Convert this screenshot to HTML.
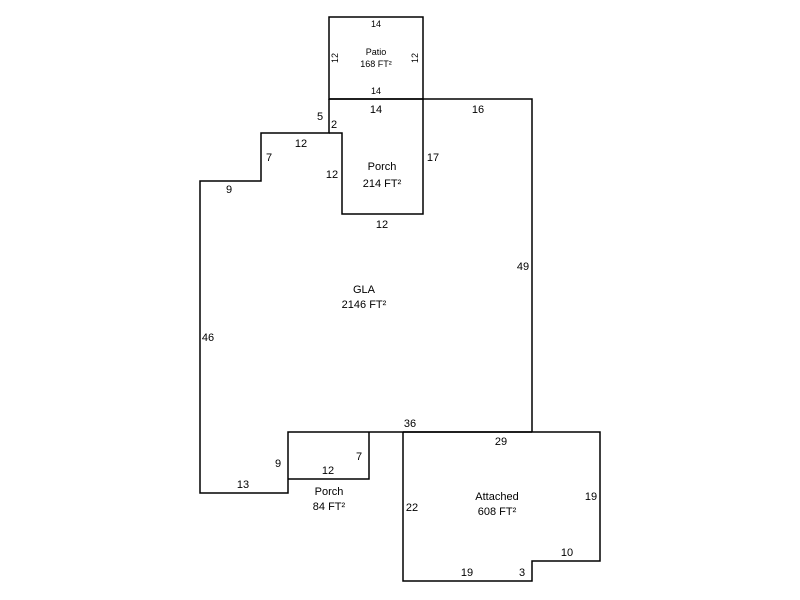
<!DOCTYPE html>
<html><head><style>body{margin:0;background:#fff}</style></head><body>
<svg width="800" height="600" xmlns="http://www.w3.org/2000/svg" style="display:block">
<rect width="800" height="600" fill="#fff"/>
<g fill="none" stroke="#000" stroke-width="1.5">
<rect x="329" y="17" width="94" height="82"/>
<polyline points="329,99 532,99 532,432"/>
<polyline points="329,99 329,133 261,133 261,181 200,181 200,493 288,493 288,432 532,432"/>
<polyline points="329,133 342,133 342,214 423,214 423,99"/>
<polyline points="369,432 369,479 288,479"/>
<polyline points="403,432 600,432 600,561 532,561 532,581 403,581 403,432"/>
</g>
<g font-family="Liberation Sans, sans-serif" font-size="11" fill="#000" text-anchor="middle">
<g font-size="9">
<text x="376" y="27">14</text>
<text x="376" y="55">Patio</text>
<text x="376" y="67">168 FT²</text>
<text x="376" y="94">14</text>
<text transform="translate(338,58) rotate(-90)">12</text>
<text transform="translate(418,58) rotate(-90)">12</text>
</g>
<text x="376" y="113">14</text>
<text x="478" y="113">16</text>
<text x="320" y="120">5</text>
<text x="334" y="128">2</text>
<text x="301" y="147">12</text>
<text x="269" y="161">7</text>
<text x="229" y="193">9</text>
<text x="332" y="178">12</text>
<text x="433" y="161">17</text>
<text x="382" y="170">Porch</text>
<text x="382" y="187">214 FT²</text>
<text x="382" y="228">12</text>
<text x="523" y="270">49</text>
<text x="364" y="293">GLA</text>
<text x="364" y="308">2146 FT²</text>
<text x="208" y="341">46</text>
<text x="410" y="427">36</text>
<text x="501" y="445">29</text>
<text x="359" y="460">7</text>
<text x="278" y="467">9</text>
<text x="328" y="474">12</text>
<text x="243" y="488">13</text>
<text x="329" y="495">Porch</text>
<text x="329" y="510">84 FT²</text>
<text x="497" y="500">Attached</text>
<text x="497" y="515">608 FT²</text>
<text x="412" y="511">22</text>
<text x="591" y="500">19</text>
<text x="567" y="556">10</text>
<text x="467" y="576">19</text>
<text x="522" y="576">3</text>
</g>
</svg>
</body></html>
